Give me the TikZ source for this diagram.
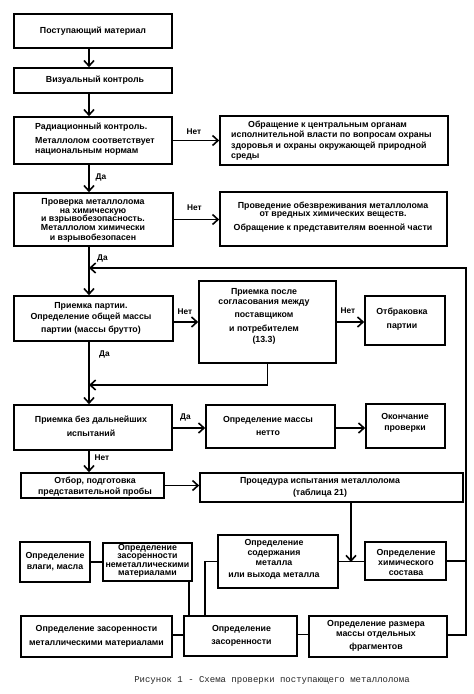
\documentclass[tikz,border=0pt]{standalone}
\usepackage{fontspec}
\setmainfont{Liberation Sans}
\newfontfamily\capfont{Liberation Mono}
\usetikzlibrary{arrows.meta}
\begin{document}
\begin{tikzpicture}[x=1pt,y=-1pt,
  box/.style={draw, line width=1.6pt, inner sep=0pt, fill=white},
  txt/.style={font=\fontsize{8.8}{10.5}\selectfont\bfseries, align=center, inner sep=0pt},
  lbl/.style={font=\fontsize{8.3}{9}\selectfont\bfseries, inner sep=0pt},
  con/.style={line width=1.6pt},
  arr/.style={line width=1.6pt, -{Straight Barb[length=5.5pt,width=10pt,line width=1.6pt]}}]
\fill[white] (0,0) rectangle (474,694);
\useasboundingbox (0,0) rectangle (474,694);
% column and junction coordinates
\coordinate (col) at (89,0);
\coordinate (fbR) at (466,268);
\coordinate (m5) at (267.5,385);
\coordinate (jn) at (351,562);
\coordinate (c8) at (205,0);
\coordinate (c13) at (189,0);
% boxes
\node[box, minimum width=158, minimum height=34] (b1) at (93,31) {};
\node[box, minimum width=158, minimum height=25] (b2) at (93,80.5) {};
\node[box, minimum width=158, minimum height=47] (b3) at (93,140.5) {};
\node[box, minimum width=228, minimum height=49] (b3r) at (334,140.5) {};
\node[box, minimum width=159, minimum height=53] (b4) at (93.5,219.5) {};
\node[box, minimum width=227, minimum height=54] (b4r) at (333.5,219) {};
\node[box, minimum width=159, minimum height=45] (b5) at (93.5,318.5) {};
\node[box, minimum width=137, minimum height=82] (b5m) at (267.5,322) {};
\node[box, minimum width=80, minimum height=49] (b5r) at (405,320.5) {};
\node[box, minimum width=158, minimum height=45] (b6) at (93,427.5) {};
\node[box, minimum width=129, minimum height=43] (b6m) at (270.5,426.5) {};
\node[box, minimum width=79, minimum height=44] (b6r) at (405.5,426) {};
\node[box, minimum width=143, minimum height=25] (b7) at (92.5,485.5) {};
\node[box, minimum width=263, minimum height=29] (b7r) at (331.5,487.5) {};
\node[box, minimum width=120, minimum height=53] (b8) at (278,561.5) {};
\node[box, minimum width=81, minimum height=38] (b9) at (405.5,561) {};
\node[box, minimum width=113, minimum height=40] (b10) at (240.5,636) {};
\node[box, minimum width=138, minimum height=41] (b11) at (378,636.5) {};
\node[box, minimum width=70, minimum height=40] (b12) at (55,562) {};
\node[box, minimum width=89, minimum height=38] (b13) at (147.5,562) {};
\node[box, minimum width=151, minimum height=41] (b14) at (96.5,636.5) {};
% texts
\node[txt] (t1) at (93,31) {Поступающий материал};
\node[txt] (t2) at (95,80.5) {Визуальный контроль};
\node[txt, align=left, anchor=west] (t3) at (35,139.5) {Радиационный контроль.\\[3pt] Металлолом соответствует\\ национальным нормам};
\node[txt, align=left, anchor=west] (t3r) at (231,140.5) {\hspace*{17pt}Обращение к центральным органам\\ исполнительной власти по вопросам охраны\\ здоровья и охраны окружающей природной\\ среды};
\node[txt] (t4) at (93,220.5) {Проверка металлолома\\[-1.5pt] на химическую\\[-2pt] и взрывобезопасность.\\[-2pt] Металлолом химически\\[0pt] и взрывобезопасен};
\node[txt] (t4r) at (333,217) {Проведение обезвреживания металлолома\\[-2pt] от вредных химических веществ.\\[3.5pt] Обращение к представителям военной части};
\node[txt] (t5) at (91,318) {Приемка партии.\\[0.5pt] Определение общей массы\\[2.5pt] партии (массы брутто)};
\node[txt] (t5m) at (264,316) {Приемка после\\[-0.5pt] согласования между\\[2.5pt] поставщиком\\[3.5pt] и потребителем\\[0.5pt] (13.3)};
\node[txt] (t5r) at (402,319) {Отбраковка\\[3.5pt] партии};
\node[txt] (t6) at (91,426) {Приемка без дальнейших\\[3.5pt] испытаний};
\node[txt] (t6m) at (268,425.5) {Определение массы\\[2.5pt] нетто};
\node[txt] (t6r) at (405,422.5) {Окончание\\[0.5pt] проверки};
\node[txt] (t7) at (95,486.5) {Отбор, подготовка\\ представительной пробы};
\node[txt] (t7r) at (320,487) {Процедура испытания металлолома\\[1.5pt] (таблица 21)};
\node[txt] (t8) at (274,559) {Определение\\[-0.5pt] содержания\\[-0.5pt] металла\\[1.5pt] или выхода металла};
\node[txt] (t9) at (406,562) {Определение\\[-0.5pt] химического\\[-0.5pt] состава};
\node[txt] (t10) at (241.5,635.5) {Определение\\[2.5pt] засоренности};
\node[txt] (t11) at (376,635.5) {Определение размера\\[-0.5pt] массы отдельных\\[2.5pt] фрагментов};
\node[txt] (t12) at (55,561.5) {Определение\\[0.5pt] влаги, масла};
\node[txt] (t13) at (147.5,561) {Определение\\[-2pt] засоренности\\[-2pt] неметаллическими\\[-2pt] материалами};
\node[txt] (t14) at (96.5,636) {Определение засоренности\\[3.5pt] металлическими материалами};
% branch labels
\node[lbl] (n1) at (194,132) {Нет};
\node[lbl] (d1) at (101,177) {Да};
\node[lbl] (n2) at (194.5,208) {Нет};
\node[lbl] (d2) at (102.5,258) {Да};
\node[lbl] (n3) at (185,312) {Нет};
\node[lbl] (n4) at (348,311) {Нет};
\node[lbl] (d3) at (104.5,354) {Да};
\node[lbl] (d4) at (185.5,417) {Да};
\node[lbl] (n5) at (102,458) {Нет};
% connectors
\draw[arr] (b1.south -| col) -- (b2.north -| col);
\draw[arr] (b2.south -| col) -- (b3.north -| col);
\draw[arr] (b3.east) -- (b3.east -| b3r.west);
\draw[arr] (b3.south -| col) -- (b4.north -| col);
\draw[arr] (b4.east) -- (b4.east -| b4r.west);
\draw[arr] (b4.south -| col) -- (b5.north -| col);
\draw[arr] (b5m.west -| b5.east) -- (b5m.west);
\draw[arr] (b5m.east) -- (b5m.east -| b5r.west);
\draw[arr] (b5m.south) -- (m5) -- (m5 -| col);
\draw[arr] (b5.south -| col) -- (b6.north -| col);
\draw[arr] ([yshift=-1.5pt]b6m.west -| b6.east) -- ([yshift=-1.5pt]b6m.west);
\draw[arr] ([yshift=-1.5pt]b6m.east) -- ([yshift=-1.5pt]b6m.east -| b6r.west);
\draw[arr] (b6.south -| col) -- (b7.north -| col);
\draw[arr] (b7.east) -- (b7.east -| b7r.west);
\draw[arr] (b7r.south -| jn) -- (jn);
\draw[con] (b8.east) -- (b8.east -| b9.west);
\draw[con] (b9.east) -- (b9.east -| fbR);
\draw[arr] ([yshift=1.5pt]b11.east) -| (fbR) -- (fbR -| col);
\draw[con] (b8.west) -| (b10.north -| c8);
\draw[con] (b13.south -| c13) -- (b10.north -| c13);
\draw[con] (b12.east) -- (b12.east -| b13.west);
\draw[con] ([yshift=1.5pt]b14.east) -- ([yshift=1.5pt]b14.east -| b10.west);
\draw[con] ([yshift=1.5pt]b10.east) -- ([yshift=1.5pt]b10.east -| b11.west);
% caption
\node[font=\capfont\fontsize{9}{10}\selectfont, text=black!85, inner sep=0pt] (cap) at (272,680) {Рисунок 1 - Схема проверки поступающего металлолома};
\end{tikzpicture}
\end{document}
